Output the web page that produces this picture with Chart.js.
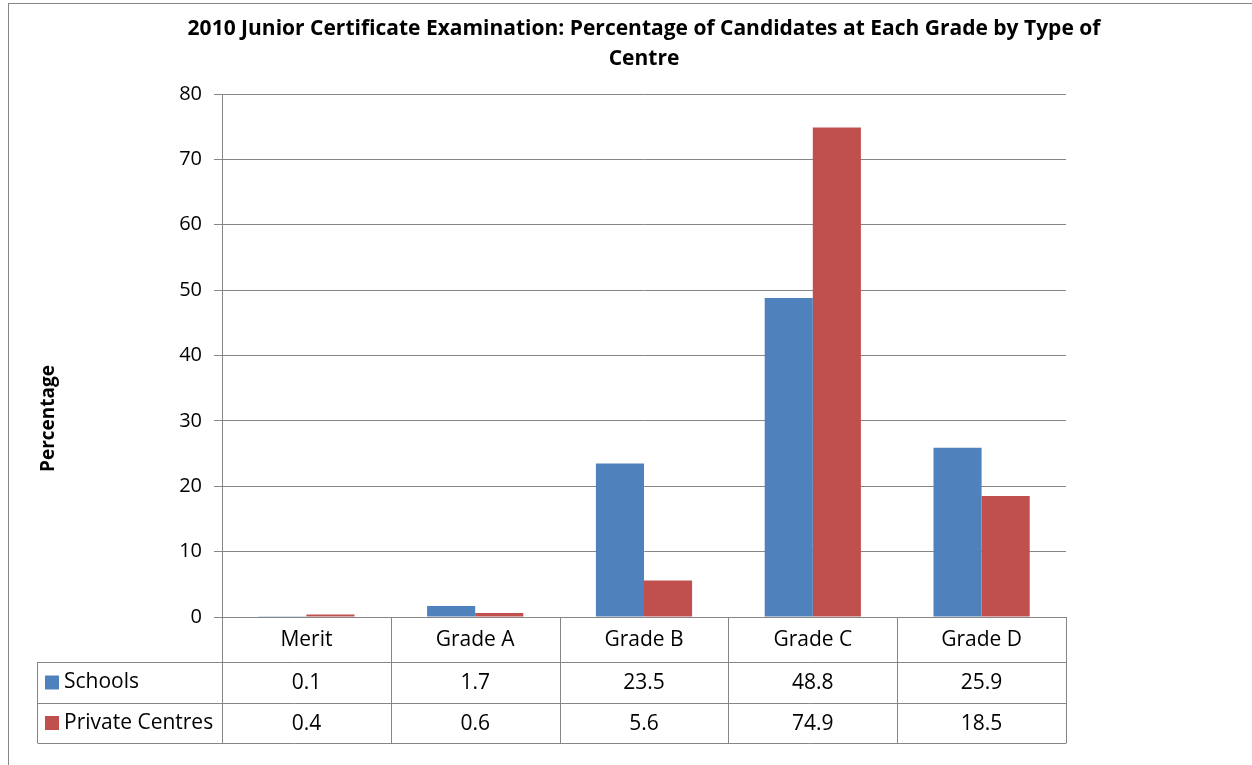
<!DOCTYPE html>
<html>
<head>
<meta charset="utf-8">
<script src="https://cdn.jsdelivr.net/npm/chart.js@4"></script>
<style>
  html, body { margin: 0; padding: 0; background: #fff; }
  canvas { display: block; }
</style>
</head>
<body>
<canvas id="gradeChart" width="1252" height="765"></canvas>
<script>
// data
const categories = ["Merit", "Grade A", "Grade B", "Grade C", "Grade D"];
const seriesNames = ["Schools", "Private Centres"];
const schools = [0.1, 1.7, 23.5, 48.8, 25.9];
const privateCentres = [0.4, 0.6, 5.6, 74.9, 18.5];
const yTicks = [0, 10, 20, 30, 40, 50, 60, 70, 80];

const colors = ["#4F81BD", "#C0504D"];
const lineGray = "#868686";
const fontFamily = "'Open Sans', Lato, sans-serif";

// draws the outer frame, the y title and the data table under the plot
const dataTablePlugin = {
  id: "dataTable",
  beforeDraw(chart) {
    const ctx = chart.ctx;
    ctx.save();
    ctx.strokeStyle = lineGray;
    ctx.lineWidth = 1;
    ctx.strokeRect(8.5, 3.5, 3000, 3000);
    ctx.restore();
  },
  afterDraw(chart) {
    const ctx = chart.ctx;
    const x = chart.scales.x;
    const area = chart.chartArea;
    const rows = [area.bottom, area.bottom + 45, area.bottom + 86, area.bottom + 126];
    const tableLeft = 37;
    const step = x.width / categories.length;
    const values = [schools, privateCentres];

    ctx.save();
    // y axis title, centred on plot + table
    ctx.fillStyle = "#000";
    ctx.font = "bold 19px " + fontFamily;
    ctx.textAlign = "center";
    ctx.textBaseline = "middle";
    ctx.translate(49, (area.top + rows[3]) / 2);
    ctx.rotate(-Math.PI / 2);
    ctx.fillText("Percentage", 0, 0);
    ctx.restore();

    ctx.save();
    ctx.strokeStyle = lineGray;
    ctx.lineWidth = 1;
    ctx.beginPath();
    // column lines
    for (let i = 0; i <= categories.length; i++) {
      const cx = Math.round(x.left + i * step) + 0.5;
      ctx.moveTo(cx, rows[0]);
      ctx.lineTo(cx, rows[3]);
    }
    // row lines
    for (let r = 1; r < rows.length; r++) {
      ctx.moveTo(tableLeft + 0.5, Math.round(rows[r]) + 0.5);
      ctx.lineTo(Math.round(x.right) + 0.5, Math.round(rows[r]) + 0.5);
    }
    ctx.moveTo(tableLeft + 0.5, rows[1]);
    ctx.lineTo(tableLeft + 0.5, rows[3]);
    ctx.stroke();

    ctx.fillStyle = "#000";
    ctx.font = "21px " + fontFamily;
    ctx.textAlign = "center";
    ctx.textBaseline = "middle";
    categories.forEach((c, i) => {
      const cx = x.getPixelForValue(i);
      ctx.fillText(c, cx, (rows[0] + rows[1]) / 2 + 1);
      values.forEach((v, s) => {
        ctx.fillText(v[i].toFixed(1), cx, (rows[s + 1] + rows[s + 2]) / 2 + 1);
      });
    });

    // legend keys in the row headers
    ctx.textAlign = "left";
    seriesNames.forEach((name, s) => {
      const mid = (rows[s + 1] + rows[s + 2]) / 2;
      ctx.fillStyle = colors[s];
      ctx.fillRect(45, mid - 7, 14, 14);
      ctx.fillStyle = "#000";
      ctx.fillText(name, 64, mid);
    });
    ctx.restore();
  }
};

const ctx = document.getElementById("gradeChart").getContext("2d");

new Chart(ctx, {
  type: "bar",
  data: {
    labels: categories,
    datasets: [
      {
        label: seriesNames[0],
        data: schools,
        backgroundColor: colors[0],
        categoryPercentage: 0.57,
        barPercentage: 1.0
      },
      {
        label: seriesNames[1],
        data: privateCentres,
        backgroundColor: colors[1],
        categoryPercentage: 0.57,
        barPercentage: 1.0
      }
    ]
  },
  options: {
    responsive: false,
    animation: false,
    layout: { padding: { left: 36, right: 0, top: 0, bottom: 148 } },
    plugins: {
      legend: { display: false },
      tooltip: { enabled: false },
      title: {
        display: true,
        text: [
          "2010 Junior Certificate Examination: Percentage of Candidates at Each Grade by Type of",
          "Centre"
        ],
        color: "#000",
        font: { family: fontFamily, size: 21, weight: "bold", lineHeight: 1.43 },
        padding: { top: 14, bottom: 20 }
      }
    },
    scales: {
      x: {
        display: false
      },
      y: {
        min: 0,
        max: 80,
        afterBuildTicks: (scale) => {
          scale.ticks = yTicks.map((v) => ({ value: v }));
        },
        afterFit: (scale) => {
          scale.width = 186;
        },
        grid: { color: lineGray, lineWidth: 1, tickLength: 8, drawTicks: true },
        border: { display: true, color: lineGray },
        ticks: {
          color: "#000",
          padding: 12,
          font: { family: fontFamily, size: 20 }
        }
      },
      yRight: {
        position: "right",
        display: true,
        grid: { display: false, drawTicks: false },
        border: { display: false },
        ticks: { display: false },
        afterFit: (scale) => {
          scale.width = 186;
        }
      }
    }
  },
  plugins: [dataTablePlugin]
});
</script>
</body>
</html>
